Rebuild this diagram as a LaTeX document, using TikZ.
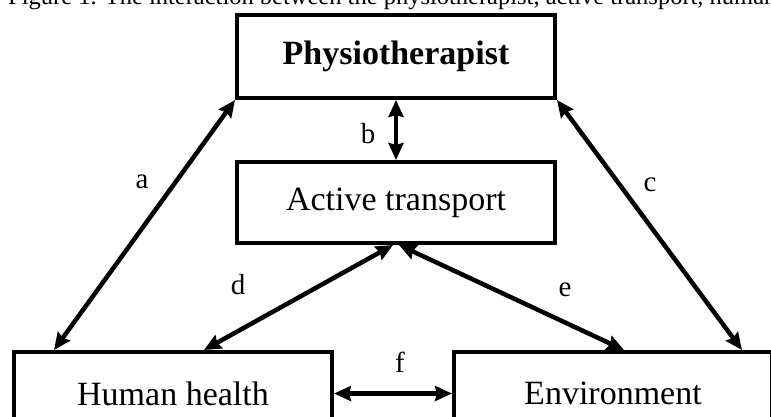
\documentclass[tikz,border=0pt]{standalone}
\usepackage{fontspec}
\setmainfont{Liberation Serif}
\usetikzlibrary{
  arrows.meta,
  positioning,
}
\tikzset{
  >={Stealth[length=17pt,width=15pt,inset=2pt]},
  box/.style={draw,rectangle,line width=4pt,minimum width=318pt,minimum height=83pt,inner sep=0pt,font=\fontsize{34}{40}\selectfont},
  link/.style={<->,line width=4.5pt},
  lbl/.style={inner sep=0pt,font=\fontsize{29}{34}\selectfont},
}

\begin{document}
\begin{tikzpicture}[x=1pt,y=-1pt,node distance=60pt and 118pt]
        \useasboundingbox (0,0) rectangle (771,417);
        \clip (0,0) rectangle (771,417);
        \node[anchor=base west,inner sep=0pt,font=\fontsize{24.5}{30}\selectfont] (cap) at (8,5) {Figure 1. The interaction between the physiotherapist, active transport, human health and the environment};

        \node[box,font=\fontsize{34}{40}\selectfont\bfseries]    (phys)  at (396,56.5)      {Physiotherapist};
        \node[box,minimum height=81pt]    (act)  [below=of phys]      {Active transport};
        \node[box]    (hh)    at (173,393.5)    {Human health};
        \node[box]    (env) [right=of hh]       {Environment};

        \draw[link] (phys.south west) -- ([xshift=42pt]hh.north west);
        \draw[link] (phys.south) -- (act.north);
        \draw[link] (phys.south east) -- ([xshift=290pt]env.north west);
        \draw[link] ([xshift=-3pt]act.south) -- ([xshift=192pt]hh.north west);
        \draw[link] ([xshift=3pt]act.south) -- ([xshift=172pt]env.north west);
        \draw[link] (hh.east) -- (env.west);

        \node[lbl] (la) at (142,182) {a};
        \node[lbl] (lb) at (368,134) {b};
        \node[lbl] (lc) at (650,185) {c};
        \node[lbl] (ld) at (238,285) {d};
        \node[lbl] (le) at (565,290) {e};
        \node[lbl] (lf) at (400,362) {f};
    \end{tikzpicture}
\end{document}
